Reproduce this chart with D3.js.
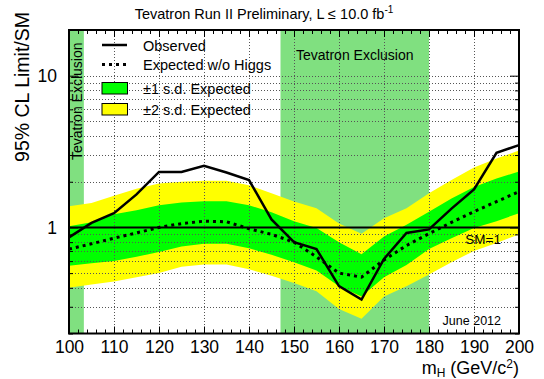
<!DOCTYPE html>
<html>
<head>
<meta charset="utf-8">
<script src="https://cdn.jsdelivr.net/npm/d3@7/dist/d3.min.js"></script>
<style>
body { margin: 0; background: #fff; }
text { font-family: "Liberation Sans", Arial, Helvetica, sans-serif; fill: #000; }
</style>
</head>
<body>
<div id="chart"></div>
<script>
// Higgs mass points (GeV/c^2)
var masses   = [100, 105, 110, 115, 120, 125, 130, 135, 140, 145, 150, 155, 160, 165, 170, 175, 180, 185, 190, 195, 200];
var observed = [0.86, 1.07, 1.24, 1.65, 2.32, 2.32, 2.55, 2.30, 2.05, 1.13, 0.80, 0.72, 0.41, 0.335, 0.62, 0.92, 0.97, 1.33, 1.78, 3.10, 3.49];
var expected = [0.72, 0.78, 0.85, 0.92, 1.00, 1.06, 1.10, 1.09, 0.98, 0.90, 0.80, 0.64, 0.50, 0.47, 0.61, 0.76, 0.91, 1.08, 1.27, 1.48, 1.72];
var minus2   = [0.40, 0.42, 0.44, 0.47, 0.50, 0.55, 0.57, 0.57, 0.53, 0.48, 0.43, 0.38, 0.29, 0.25, 0.35, 0.41, 0.49, 0.59, 0.70, 0.79, 0.90];
var minus1   = [0.56, 0.58, 0.60, 0.64, 0.69, 0.75, 0.78, 0.78, 0.73, 0.66, 0.59, 0.52, 0.41, 0.35, 0.47, 0.565, 0.72, 0.85, 0.99, 1.10, 1.24];
var plus1    = [1.02, 1.08, 1.22, 1.30, 1.40, 1.46, 1.49, 1.49, 1.40, 1.26, 1.10, 0.99, 0.80, 0.665, 0.87, 1.04, 1.27, 1.55, 1.85, 2.10, 2.34];
var plus2    = [1.38, 1.45, 1.62, 1.80, 1.95, 2.00, 2.03, 2.03, 1.90, 1.68, 1.48, 1.34, 1.06, 0.91, 1.15, 1.34, 1.68, 2.05, 2.48, 2.85, 3.21];

// Tevatron excluded mass ranges
var exclusions = [[100, 103.3], [147, 180]];

var xTicks = [100, 110, 120, 130, 140, 150, 160, 170, 180, 190, 200];
var yTicks = [1, 10];
var yMinor = [0.2, 0.3, 0.4, 0.5, 0.6, 0.7, 0.8, 0.9, 2, 3, 4, 5, 6, 7, 8, 9, 20];
var yGrid  = [0.3, 0.4, 0.5, 0.6, 0.7, 0.8, 0.9, 2, 3, 4, 5, 6, 7, 8, 9, 10];

var width = 544, height = 379;
var pLeft = 69, pRight = 519, pTop = 30, pBottom = 333.5;

var svg = d3.select("#chart").append("svg")
	.attr("width", width)
	.attr("height", height);

var x = d3.scaleLinear().domain([100, 200]).range([pLeft, pRight]);
var y = d3.scaleLog().domain([0.2, 20]).range([pBottom, pTop]);

var rows = masses.map(function (m, i) {
	return { m: m, obs: observed[i], exp: expected[i], m2: minus2[i], m1: minus1[i], p1: plus1[i], p2: plus2[i] };
});

// exclusion regions
svg.selectAll("rect.excl")
	.data(exclusions)
	.enter().append("rect")
	.attr("class", "excl")
	.attr("x", function (d) { return x(d[0]); })
	.attr("width", function (d) { return x(d[1]) - x(d[0]); })
	.attr("y", pTop)
	.attr("height", pBottom - pTop)
	.style("fill", "#80e080");

// +-2 and +-1 bands
var band = function (lo, hi) {
	return d3.area()
		.x(function (d) { return x(d.m); })
		.y0(function (d) { return y(d[lo]); })
		.y1(function (d) { return y(d[hi]); });
};
svg.append("path").datum(rows).attr("d", band("m2", "p2")).style("fill", "#ffff00");
svg.append("path").datum(rows).attr("d", band("m1", "p1")).style("fill", "#00ff00");

// dotted grid
var grid = svg.append("g").attr("class", "grid")
	.style("stroke", "#555")
	.style("stroke-width", 1)
	.style("stroke-dasharray", "1,2");
grid.selectAll("line.gx")
	.data(xTicks.slice(1, -1))
	.enter().append("line")
	.attr("x1", function (d) { return Math.round(x(d)) + 0.5; })
	.attr("x2", function (d) { return Math.round(x(d)) + 0.5; })
	.attr("y1", pTop)
	.attr("y2", pBottom);
grid.selectAll("line.gy")
	.data(yGrid)
	.enter().append("line")
	.attr("x1", pLeft)
	.attr("x2", pRight)
	.attr("y1", function (d) { return Math.round(y(d)) + 0.5; })
	.attr("y2", function (d) { return Math.round(y(d)) + 0.5; });

// SM = 1 line
svg.append("line")
	.attr("x1", pLeft).attr("x2", pRight)
	.attr("y1", y(1)).attr("y2", y(1))
	.style("stroke", "#000").style("stroke-width", 2);

// expected and observed
var line = function (key) {
	return d3.line()
		.x(function (d) { return x(d.m); })
		.y(function (d) { return y(d[key]); });
};
svg.append("path").datum(rows).attr("d", line("exp"))
	.style("fill", "none").style("stroke", "#000")
	.style("stroke-width", 3).style("stroke-dasharray", "3,4");
svg.append("path").datum(rows).attr("d", line("obs"))
	.style("fill", "none").style("stroke", "#000")
	.style("stroke-width", 2.5).style("stroke-linejoin", "miter");

// axes (ticks pointing inward)
var xMinor = d3.range(100, 201, 2).filter(function (v) { return v % 10; });
function addAxis(axis, tr) {
	var g = svg.append("g").attr("transform", tr).call(axis);
	g.select(".domain").remove();
	g.selectAll("line").style("stroke", "#000");
	g.attr("font-family", null).attr("font-size", null);
	g.selectAll("text").style("font-size", "17.5px");
	return g;
}
addAxis(d3.axisBottom(x).tickValues(xTicks).tickSize(-7).tickPadding(7).tickFormat(d3.format("d")), "translate(0," + pBottom + ")");
addAxis(d3.axisBottom(x).tickValues(xMinor).tickSize(-4).tickFormat(""), "translate(0," + pBottom + ")");
addAxis(d3.axisTop(x).tickValues(xTicks).tickSize(-7).tickFormat(""), "translate(0," + pTop + ")");
addAxis(d3.axisTop(x).tickValues(xMinor).tickSize(-4).tickFormat(""), "translate(0," + pTop + ")");
addAxis(d3.axisLeft(y).tickValues(yTicks).tickSize(-9).tickPadding(12).tickFormat(d3.format("d")), "translate(" + pLeft + ",0)");
addAxis(d3.axisLeft(y).tickValues(yMinor).tickSize(-4).tickFormat(""), "translate(" + pLeft + ",0)");
addAxis(d3.axisRight(y).tickValues(yTicks).tickSize(-9).tickFormat(""), "translate(" + pRight + ",0)");
addAxis(d3.axisRight(y).tickValues(yMinor).tickSize(-4).tickFormat(""), "translate(" + pRight + ",0)");

// frame
svg.append("rect")
	.attr("x", pLeft).attr("y", pTop)
	.attr("width", pRight - pLeft).attr("height", pBottom - pTop)
	.style("fill", "none").style("stroke", "#000").style("stroke-width", 2);

// titles
var title = svg.append("text")
	.attr("x", 264).attr("y", 19)
	.attr("text-anchor", "middle")
	.style("font-size", "14.5px")
	.text("Tevatron Run II Preliminary, L \u2264 10.0 fb");
title.append("tspan").attr("dy", -6).style("font-size", "10px").text("-1");

svg.append("text")
	.attr("transform", "translate(29,12) rotate(-90)")
	.attr("text-anchor", "end")
	.style("font-size", "19.5px")
	.text("95% CL Limit/SM");

var xl = svg.append("text")
	.attr("x", 519).attr("y", 374)
	.attr("text-anchor", "end")
	.style("font-size", "18px")
	.text("m");
xl.append("tspan").attr("dy", 2.5).style("font-size", "12px").text("H");
xl.append("tspan").attr("dy", -2.5).text(" (GeV/c");
xl.append("tspan").attr("dy", -6).style("font-size", "12px").text("2");
xl.append("tspan").attr("dy", 6).text(")");

svg.append("text")
	.attr("transform", "translate(82,160) rotate(-90)")
	.style("font-size", "14px")
	.text("Tevatron Exclusion");
svg.append("text")
	.attr("x", x(163.5)).attr("y", 60)
	.attr("text-anchor", "middle")
	.style("font-size", "14px")
	.text("Tevatron Exclusion");

svg.append("text")
	.attr("x", 501).attr("y", 243.5)
	.attr("text-anchor", "end")
	.style("font-size", "13.5px")
	.text("SM=1");
svg.append("text")
	.attr("x", 501).attr("y", 325)
	.attr("text-anchor", "end")
	.style("font-size", "12.5px")
	.text("June 2012");

// legend
var legend = svg.append("g");
legend.append("line").attr("x1", 102).attr("x2", 127).attr("y1", 45).attr("y2", 45)
	.style("stroke", "#000").style("stroke-width", 2.5);
legend.append("line").attr("x1", 102).attr("x2", 127).attr("y1", 64.5).attr("y2", 64.5)
	.style("stroke", "#000").style("stroke-width", 3).style("stroke-dasharray", "3,4");
legend.append("rect").attr("x", 102).attr("y", 82.5).attr("width", 25.5).attr("height", 11.5)
	.style("fill", "#00ff00").style("stroke", "#000").style("stroke-width", 1);
legend.append("rect").attr("x", 102).attr("y", 103.5).attr("width", 25.5).attr("height", 11.5)
	.style("fill", "#ffff00").style("stroke", "#000").style("stroke-width", 1);
var legendLabels = ["Observed", "Expected w/o Higgs", "\u00b11 s.d. Expected", "\u00b12 s.d. Expected"];
var legendY = [50.5, 70, 93.5, 114.5];
legend.selectAll("text.lab")
	.data(legendLabels)
	.enter().append("text")
	.attr("x", 143)
	.attr("y", function (d, i) { return legendY[i]; })
	.style("font-size", "14.5px")
	.text(function (d) { return d; });
</script>
</body>
</html>
